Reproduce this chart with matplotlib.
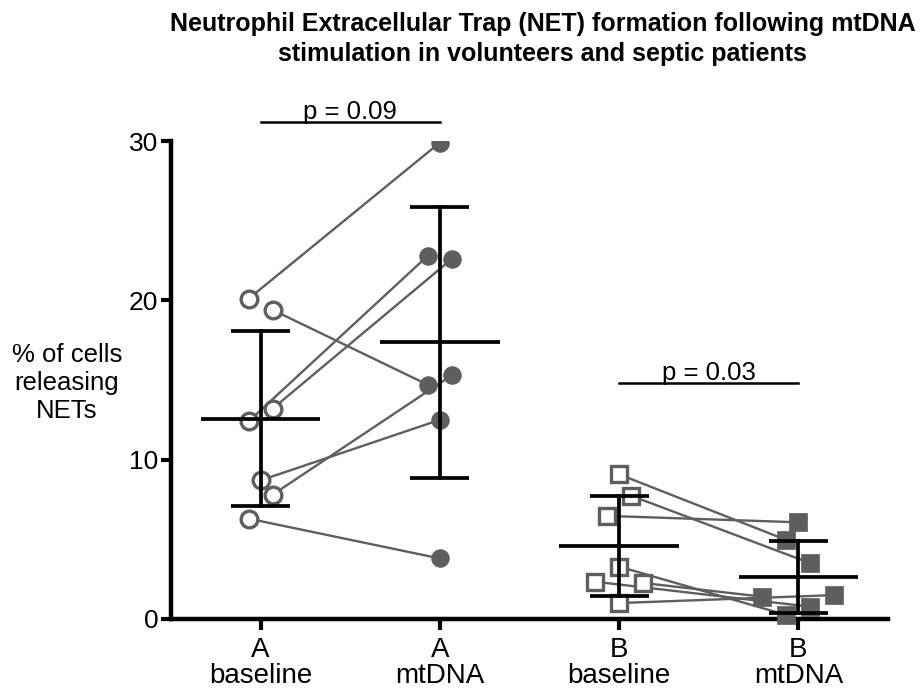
import numpy as np
import matplotlib
matplotlib.use("Agg")
import matplotlib.pyplot as plt

plt.rcParams['font.family'] = ['Liberation Sans', 'DejaVu Sans']

# values (% of cells releasing NETs), paired by subject
a_baseline = [20.1, 19.4, 13.2, 12.4, 8.7, 7.8, 6.3]
a_mtdna = [29.9, 14.7, 22.6, 22.8, 12.5, 15.3, 3.8]
b_baseline = [9.08, 7.74, 6.47, 3.29, 2.34, 2.26, 1.0]
b_mtdna = [4.96, 3.5, 6.07, 0.25, 0.77, 1.4, 1.5]

groups = [a_baseline, a_mtdna, b_baseline, b_mtdna]
tick_labels = ["A\nbaseline", "A\nmtDNA", "B\nbaseline", "B\nmtDNA"]
p_labels = ["p = 0.09", "p = 0.03"]
y_ticks = [0, 10, 20, 30]

# scatter stagger slots (layout only) for each point, same order as the data
slots = [
    [-1, 1, 1, -1, 0, 1, -1],
    [0, -1, 1, -1, 0, 1, 0],
    [0, 1, -1, 0, -2, 2, 0],
    [-1, 1, 0, -1, 1, -3, 3],
]
step = 0.067
gray = "#5e5e5e"

fig = plt.figure(figsize=(9.24, 6.88), dpi=100)
ax = fig.add_axes([0.185, 0.1003, 0.776, 0.6947])

xs = [i + np.array(s) * step for i, s in enumerate(slots)]

# paired lines
for i, j in [(0, 1), (2, 3)]:
    for k in range(len(groups[i])):
        ax.plot([xs[i][k], xs[j][k]], [groups[i][k], groups[j][k]],
                color=gray, lw=1.7, zorder=2, clip_on=False)

# markers
ax.plot(xs[0], a_baseline, 'o', ms=12, mfc='white', mec=gray, mew=2.4, ls='none', zorder=3)
ax.plot(xs[1], a_mtdna, 'o', ms=12.5, mfc=gray, mec=gray, mew=0.8, ls='none', zorder=3)
ax.plot(xs[2], b_baseline, 's', ms=12, mfc='white', mec=gray, mew=2.4, ls='none', zorder=3, clip_on=False)
ax.plot(xs[3], b_mtdna, 's', ms=12.5, mfc=gray, mec=gray, mew=0.5, ls='none', zorder=3, clip_on=False)

# mean +/- SD
for i, g in enumerate(groups):
    m = np.mean(g)
    sd = np.std(g, ddof=1)
    ax.plot([i - 0.333, i + 0.333], [m, m], color='black', lw=2.7, zorder=4, solid_capstyle='butt')
    ax.plot([i, i], [m - sd, m + sd], color='black', lw=2.7, zorder=4)
    for v in (m - sd, m + sd):
        ax.plot([i - 0.165, i + 0.165], [v, v], color='black', lw=2.7, zorder=4,
                solid_capstyle='butt', clip_on=False)

# significance bars
for (x0, x1), yb, lab in zip([(0, 1), (2, 3)], [31.2, 14.83], p_labels):
    ax.plot([x0, x1], [yb, yb], color='black', lw=1.8, clip_on=False, zorder=5)
    ax.text((x0 + x1) / 2, yb + 0.2, lab, ha='center', va='baseline', fontsize=18.5)

ax.set_xlim(-0.5, 3.5)
ax.set_ylim(0, 30)
ax.set_yticks(y_ticks)
ax.set_xticks(range(4))
ax.set_xticklabels(tick_labels, fontsize=20, linespacing=1.0)
ax.tick_params(axis='y', labelsize=19, width=3, length=7, pad=2)
ax.tick_params(axis='x', width=3, length=8, pad=5)
for side in ['top', 'right']:
    ax.spines[side].set_visible(False)
for side in ['left', 'bottom']:
    ax.spines[side].set_linewidth(3.2)

fig.text(0.587, 0.983, "Neutrophil Extracellular Trap (NET) formation following mtDNA\n"
         "stimulation in volunteers and septic patients",
         ha='center', va='top', fontsize=18, fontweight='bold', linespacing=1.35)
fig.text(0.0725, 0.443, "% of cells\nreleasing\nNETs", ha='center', va='center',
         fontsize=18.5, linespacing=1.22, multialignment='center')

fig.savefig("out.png", dpi=100)
